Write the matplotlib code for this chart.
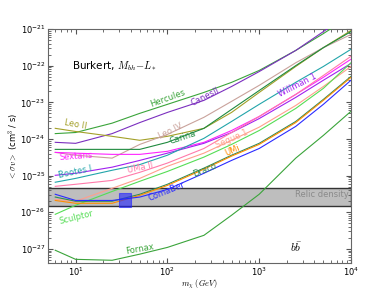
import numpy as np
import matplotlib.pyplot as plt
from matplotlib.patches import Rectangle

plt.rcParams['mathtext.fontset'] = 'cm'

# dark matter mass grid (GeV)
mass = [6, 10, 25, 50, 100, 250, 500, 1000, 2500, 5000, 10000]

# <sigma v> upper limits (cm^3/s)
hercules = [1.4e-24, 1.5e-24, 2.7e-24, 5.0e-24, 8.8e-24, 1.86e-23, 3.5e-23, 7.4e-23, 2.6e-22, 7.5e-22, 2.3e-21]
canes2 = [8.1e-25, 7.6e-25, 1.4e-24, 2.8e-24, 5.3e-24, 1.13e-23, 2.7e-23, 6.9e-23, 2.6e-22, 8.5e-22, 2.8e-21]
leo2 = [1.95e-24, 1.6e-24, 1.18e-24, 9.2e-25, 1.18e-24, 1.95e-24, 5.3e-24, 1.86e-23, 9.5e-23, 3.1e-22, 9.1e-22]
leo4 = [4.3e-25, 3.6e-25, 3.0e-25, 7.1e-25, 1.33e-24, 3.9e-24, 1.06e-23, 2.9e-23, 1.2e-22, 3.1e-22, 7.1e-22]
carina = [5.2e-25, 5.2e-25, 5.2e-25, 5.2e-25, 8.1e-25, 1.95e-24, 6.4e-24, 2.1e-23, 1.0e-22, 3.1e-22, 8.5e-22]
sextans = [4.3e-25, 4.1e-25, 3.8e-25, 3.8e-25, 4.6e-25, 8.1e-25, 1.7e-24, 4.1e-24, 1.64e-23, 4.8e-23, 1.5e-22]
willman1 = [1.02e-25, 1.16e-25, 1.7e-25, 2.6e-25, 4.1e-25, 7.6e-25, 1.5e-24, 3.6e-24, 1.36e-23, 4.0e-23, 1.15e-22]
bootes1 = [6.6e-26, 8.4e-26, 1.4e-25, 2.0e-25, 3.6e-25, 1.04e-24, 3.0e-24, 8.8e-24, 3.5e-23, 9.5e-23, 2.8e-22]
uma2 = [5.1e-26, 5.8e-26, 7.4e-26, 1.23e-25, 2.2e-25, 5.5e-25, 1.5e-24, 4.1e-24, 1.64e-23, 5.4e-23, 1.8e-22]
segue1 = [2.26e-26, 2.0e-26, 4.5e-26, 8.4e-26, 1.8e-25, 4.1e-25, 9.2e-25, 2.1e-24, 8.2e-24, 2.7e-23, 9.5e-23]
sculptor = [8.8e-27, 1.55e-26, 3.7e-26, 7.0e-26, 1.3e-25, 3.2e-25, 7.1e-25, 1.7e-24, 6.8e-24, 2.4e-23, 1.2e-22]
draco = [2.6e-26, 2.0e-26, 2.0e-26, 3.1e-26, 5.8e-26, 1.6e-25, 3.6e-25, 7.6e-25, 3.0e-24, 1.2e-23, 5.1e-23]
umi = [2.1e-26, 1.76e-26, 1.76e-26, 2.9e-26, 5.4e-26, 1.5e-25, 3.4e-25, 7.1e-25, 2.8e-24, 1.13e-23, 4.8e-23]
comaber = [3.1e-26, 2.1e-26, 2.1e-26, 2.6e-26, 4.2e-26, 1.16e-25, 2.6e-25, 5.5e-25, 2.2e-24, 8.8e-24, 4.0e-23]
fornax = [9.2e-28, 5.2e-28, 4.9e-28, 7.2e-28, 1.1e-27, 2.35e-27, 8.3e-27, 3.1e-26, 3.0e-25, 1.25e-24, 5.7e-24]

relic_band = [1.45e-26, 4.5e-26]
gc_box_mass = [30, 40]
gc_box_sv = [1.37e-26, 3.3e-26]

x_ticks = [1e1, 1e2, 1e3, 1e4]
y_ticks = [1e-27, 1e-26, 1e-25, 1e-24, 1e-23, 1e-22, 1e-21]

# name, data, colour, label position (mass, sv), label rotation
dwarfs = [
    ("Hercules", hercules, '#3aa43a', 100, 1.28e-23, 20),
    ("CanesII", canes2, '#7b2fbf', 255, 1.45e-23, 27),
    ("Leo II", leo2, '#a3a028', 10, 2.5e-24, -10),
    ("Leo IV", leo4, '#c9a29b', 108, 1.6e-24, 26),
    ("Carina", carina, '#1f8a3f', 146, 1.1e-24, 18),
    ("Sextans", sextans, '#ff22ff', 10, 3.4e-25, 4),
    ("Willman 1", willman1, '#a020f0', 2600, 2.9e-23, 27),
    ("Bootes I", bootes1, '#22a5aa', 10, 1.23e-25, 12),
    ("UMa II", uma2, '#ff7aaa', 50, 1.6e-25, 12),
    ("Segue 1", segue1, '#ff9f8c', 505, 9.8e-25, 24),
    ("Sculptor", sculptor, '#55dd55', 10.3, 7.3e-27, 14),
    ("Draco", draco, '#2e8b57', 255, 1.4e-25, 22),
    ("UMi", umi, '#ff8c00', 510, 4.9e-25, 24),
    ("ComaBer", comaber, '#2b2bff', 97, 3.7e-26, 22),
    ("Fornax", fornax, '#3aa43a', 50.5, 9.8e-28, 10),
]

fig = plt.figure(figsize=(3.9, 2.93), dpi=100)
ax = fig.add_axes([0.123, 0.102, 0.777, 0.799])

ax.axhspan(relic_band[0], relic_band[1], facecolor='#bebebe', edgecolor='#333333', lw=1.0, zorder=1)
ax.text(9500, 3.1e-26, "Relic density", color='#8a8a8a', fontsize=6, ha='right', va='center', zorder=5)

for name, vals, col, lm, lsv, rot in dwarfs:
    ax.plot(mass, vals, color=col, lw=0.8, zorder=3)
    ax.text(lm, lsv, name, color=col, fontsize=6, rotation=rot, ha='center', va='center',
            rotation_mode='anchor', zorder=6)

ax.add_patch(Rectangle((gc_box_mass[0], gc_box_sv[0]), gc_box_mass[1] - gc_box_mass[0],
                       gc_box_sv[1] - gc_box_sv[0], facecolor='#2020ff', edgecolor='#2020ff',
                       alpha=0.6, lw=0.8, zorder=4))

ax.text(0.079, 0.842, r"Burkert, $M_{bh}{-}L_*$", transform=ax.transAxes, fontsize=7.5, va='center')
ax.text(0.818, 0.068, r"$b\bar{b}$", transform=ax.transAxes, fontsize=8, ha='center', va='center')

ax.set_xscale('log')
ax.set_yscale('log')
ax.set_xticks(x_ticks)
ax.set_yticks(y_ticks)
ax.set_xlim(5, 1e4)
ax.set_ylim(4.1e-28, 1e-21)
ax.set_xlabel(r"$m_\chi\ (GeV)$", fontsize=6, labelpad=0)
ax.set_ylabel(r"$<\sigma v>$ (cm$^3$ / s)", fontsize=6, labelpad=0)
ax.tick_params(which='both', direction='in', top=True, right=True, labelsize=6, color='#555555')
ax.tick_params(which='major', length=3.5, pad=2)
ax.tick_params(which='minor', length=2)
for s in ax.spines.values():
    s.set_color('#666666')

fig.savefig("out.png", dpi=100)
